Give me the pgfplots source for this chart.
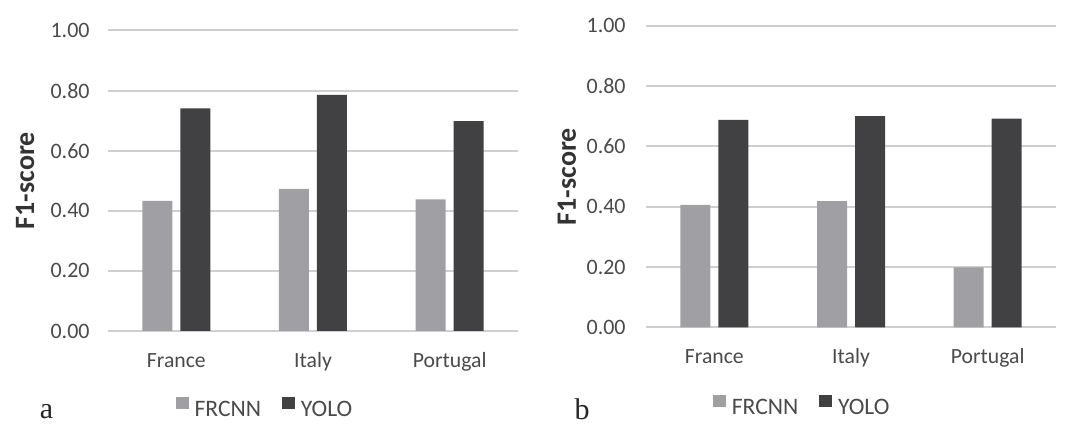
\documentclass[border=0pt]{standalone}
\usepackage{pgfplots}
\pgfplotsset{compat=1.18}
\usepackage{fontspec}
\setmainfont{Carlito}
\newfontfamily\serifa{Liberation Serif}
\definecolor{frc}{HTML}{A0A0A4}
\definecolor{yol}{HTML}{414143}
\definecolor{gridc}{HTML}{CFCFCF}
\definecolor{txt}{HTML}{4A4A4A}
\definecolor{lab}{HTML}{333333}

\pgfplotsset{
 panel/.style={
  scale only axis, width=205pt,
  ymin=0, ymax=1, xmin=-0.5, xmax=2.5,
  ybar, bar width=15pt,
  axis line style={draw=none},
  major tick length=0pt,
  ytick={0,0.2,0.4,0.6,0.8,1},
  yticklabels={0.00,0.20,0.40,0.60,0.80,1.00},
  xtick={0,1,2}, xticklabels={France,Italy,Portugal},
  ymajorgrids, grid style={line width=1pt, color=gridc},
  yticklabel style={font=\fontsize{11}{13}\selectfont, text=txt, inner sep=0pt, anchor=east},
  xticklabel style={font=\fontsize{10.85}{13}\selectfont, text=txt, inner sep=0pt, anchor=base},
  ylabel={F1-score},
  ylabel style={font=\fontsize{14}{16}\selectfont\bfseries, text=lab, anchor=center},
  legend columns=2,
  legend style={draw=none, fill=none, font=\fontsize{11.8}{14}\selectfont, text=txt, anchor=center,
    nodes={inner xsep=3pt},
    /tikz/every even column/.append style={column sep=7.5pt}},
  legend image code/.code={\fill[##1] (0pt,0.5pt) rectangle (6.4pt,6.6pt);},
 }
}

\begin{document}
\begin{tikzpicture}
\useasboundingbox (0,0) rectangle (540pt,213pt);

\begin{axis}[panel, at={(54pt,47.5pt)}, anchor=south west, height=150.25pt,
  yticklabel style={xshift=-9pt}, xticklabel style={yshift=-18.5pt},
  ylabel style={at={(axis description cs:-0.2024,0.5)}},
  legend style={at={(0.388,-0.263)}}]
\addplot[fill=frc, draw=none, bar shift=-9.5pt] coordinates {(0,0.433) (1,0.473) (2,0.438)};
\addplot[fill=yol, draw=none, bar shift=9.5pt] coordinates {(0,0.741) (1,0.786) (2,0.698)};
\legend{FRCNN,YOLO}
\end{axis}

\begin{axis}[panel, at={(323pt,49.35pt)}, anchor=south west, height=150.8pt,
  yticklabel style={xshift=-10pt}, xticklabel style={yshift=-18pt},
  ylabel style={at={(axis description cs:-0.193,0.5)}},
  legend style={at={(0.386,-0.269)}}]
\addplot[fill=frc, draw=none, bar shift=-9.5pt] coordinates {(0,0.406) (1,0.418) (2,0.199)};
\addplot[fill=yol, draw=none, bar shift=9.5pt] coordinates {(0,0.688) (1,0.700) (2,0.692)};
\legend{FRCNN,YOLO}
\end{axis}

\node[anchor=base, font=\serifa\fontsize{15}{18}\selectfont, text=black!85] at (23.3pt,3.75pt) {a};
\node[anchor=base, font=\serifa\fontsize{15}{18}\selectfont, text=black!85] at (291pt,3pt) {b};
\end{tikzpicture}
\end{document}
